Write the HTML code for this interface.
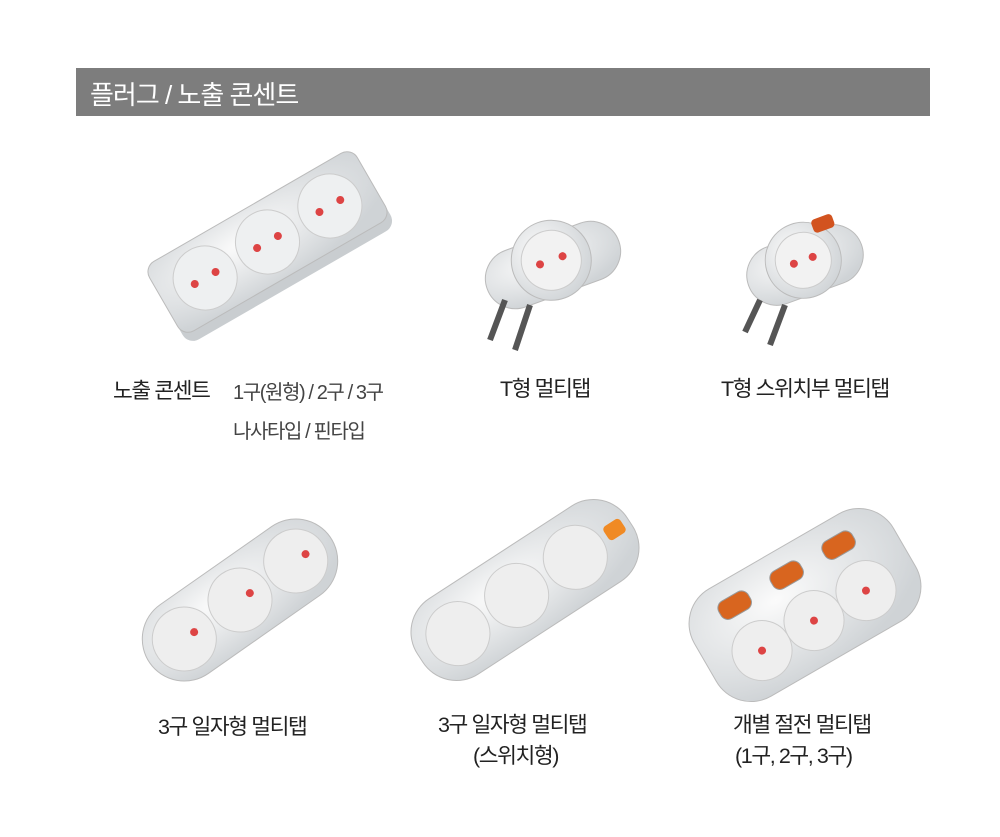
<!DOCTYPE html>
<html><head><meta charset="utf-8"><style>
body{margin:0;background:#fff;width:1000px;height:837px;position:relative;overflow:hidden;font-family:"Liberation Sans","Noto Sans CJK KR",sans-serif;color:#222}
.hdr{position:absolute;left:76px;top:68px;width:854px;height:48px;background:#7d7d7d}
.hdr span{position:absolute;left:14px;top:7px;color:#fff;font-size:26px;font-weight:normal;letter-spacing:-1px}
.t{position:absolute;white-space:nowrap;font-size:21.5px;letter-spacing:-1.4px;transform-origin:left top}
svg{position:absolute;left:0;top:0}
</style></head><body>
<div class="hdr"><span>플러그 / 노출 콘센트</span></div>
<svg width="1000" height="837">
<defs>
<radialGradient id="g" cx="40%" cy="35%" r="70%"><stop offset="0" stop-color="#fbfbfb"/><stop offset="1" stop-color="#cfd3d6"/></radialGradient>
</defs>
<g transform="translate(275,255) rotate(-30)">
<rect x="-120" y="-45" width="240" height="80" rx="12" fill="#c9cdd0"/>
<rect x="-120" y="-55" width="240" height="80" rx="12" fill="url(#g)" stroke="#bbb"/>
<circle cx="-72" cy="-15" r="32" fill="#eef0f1" stroke="#ccc"/><circle cx="0" cy="-15" r="32" fill="#eef0f1" stroke="#ccc"/><circle cx="72" cy="-15" r="32" fill="#eef0f1" stroke="#ccc"/>
<circle cx="-84" cy="-15" r="4" fill="#d44"/><circle cx="-60" cy="-15" r="4" fill="#d44"/><circle cx="-12" cy="-15" r="4" fill="#d44"/><circle cx="12" cy="-15" r="4" fill="#d44"/><circle cx="60" cy="-15" r="4" fill="#d44"/><circle cx="84" cy="-15" r="4" fill="#d44"/>
</g>
<g transform="translate(553,265) rotate(-20)">
<rect x="-70" y="-30" width="140" height="60" rx="30" fill="url(#g)" stroke="#bbb"/>
<circle cx="0" cy="-5" r="40" fill="url(#g)" stroke="#bbb"/><circle cx="0" cy="-5" r="30" fill="#f2f2f2" stroke="#ccc"/>
<circle cx="-12" cy="-5" r="4" fill="#d44"/><circle cx="12" cy="-5" r="4" fill="#d44"/>
</g>
<line x1="505" y1="300" x2="490" y2="340" stroke="#555" stroke-width="6"/><line x1="530" y1="305" x2="515" y2="350" stroke="#555" stroke-width="6"/>
<g transform="translate(805,265) rotate(-20)">
<rect x="-60" y="-30" width="120" height="60" rx="30" fill="url(#g)" stroke="#bbb"/>
<circle cx="0" cy="-5" r="38" fill="url(#g)" stroke="#bbb"/><circle cx="0" cy="-5" r="28" fill="#f2f2f2" stroke="#ccc"/>
<circle cx="-10" cy="-5" r="4" fill="#d44"/><circle cx="10" cy="-5" r="4" fill="#d44"/>
<rect x="20" y="-40" width="22" height="14" rx="4" fill="#d2531f"/>
</g>
<line x1="760" y1="300" x2="745" y2="332" stroke="#555" stroke-width="6"/><line x1="785" y1="305" x2="770" y2="345" stroke="#555" stroke-width="6"/>
<g transform="translate(240,600) rotate(-35)">
<rect x="-110" y="-42" width="220" height="84" rx="42" fill="url(#g)" stroke="#bbb"/>
<circle cx="-68" cy="0" r="32" fill="#eee" stroke="#ccc"/><circle cx="0" cy="0" r="32" fill="#eee" stroke="#ccc"/><circle cx="68" cy="0" r="32" fill="#eee" stroke="#ccc"/>
<circle cx="-56" cy="0" r="4" fill="#d44"/><circle cx="12" cy="0" r="4" fill="#d44"/><circle cx="80" cy="0" r="4" fill="#d44"/>
</g>
<g transform="translate(525,590) rotate(-33)">
<rect x="-125" y="-45" width="250" height="90" rx="40" fill="url(#g)" stroke="#bbb"/>
<circle cx="-80" cy="0" r="32" fill="#eee" stroke="#ccc"/><circle cx="-10" cy="0" r="32" fill="#eee" stroke="#ccc"/><circle cx="60" cy="0" r="32" fill="#eee" stroke="#ccc"/>
<rect x="98" y="-10" width="20" height="16" rx="4" fill="#f08a24"/>
</g>
<g transform="translate(805,605) rotate(-30)">
<rect x="-115" y="-62" width="230" height="124" rx="40" fill="url(#g)" stroke="#bbb"/>
<circle cx="-60" cy="18" r="30" fill="#eee" stroke="#ccc"/><circle cx="0" cy="18" r="30" fill="#eee" stroke="#ccc"/><circle cx="60" cy="18" r="30" fill="#eee" stroke="#ccc"/>
<circle cx="-60" cy="18" r="4" fill="#d44"/><circle cx="0" cy="18" r="4" fill="#d44"/><circle cx="60" cy="18" r="4" fill="#d44"/>
<rect x="-78" y="-45" width="34" height="20" rx="8" fill="#d8651f" stroke="#999"/><rect x="-18" y="-45" width="34" height="20" rx="8" fill="#d8651f" stroke="#999"/><rect x="42" y="-45" width="34" height="20" rx="8" fill="#d8651f" stroke="#999"/>
</g>
</svg>
<div class="t" style="left:113px;top:374px">노출 콘센트</div>
<div class="t" style="left:233px;top:376px;font-size:20px;color:#444">1구(원형) / 2구 / 3구</div>
<div class="t" style="left:233px;top:415px;font-size:20px;color:#444">나사타입 / 핀타입</div>
<div class="t" style="left:500px;top:372px">T형 멀티탭</div>
<div class="t" style="left:721px;top:372px">T형 스위치부 멀티탭</div>
<div class="t" style="left:158px;top:710px">3구 일자형 멀티탭</div>
<div class="t" style="left:438px;top:708px">3구 일자형 멀티탭</div>
<div class="t" style="left:473px;top:739px">(스위치형)</div>
<div class="t" style="left:733px;top:708px">개별 절전 멀티탭</div>
<div class="t" style="left:735px;top:739px">(1구, 2구, 3구)</div>
</body></html>
